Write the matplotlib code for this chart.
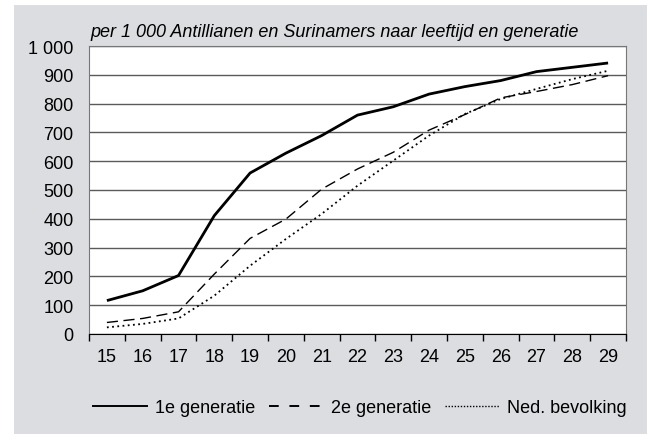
import matplotlib
matplotlib.use("Agg")
import matplotlib.pyplot as plt
from matplotlib.patches import Rectangle
from matplotlib.lines import Line2D

plt.rcParams['font.family'] = ['Liberation Sans', 'DejaVu Sans']

# leeftijd 15..29
ages = [15, 16, 17, 18, 19, 20, 21, 22, 23, 24, 25, 26, 27, 28, 29]
gen1 = [116, 150, 203, 411, 559, 628, 689, 760, 789, 833, 859, 880, 911, 926, 941]
gen2 = [40, 54, 77, 208, 332, 399, 503, 573, 631, 708, 762, 820, 842, 866, 897]
ned = [23, 35, 54, 133, 237, 330, 417, 515, 602, 689, 764, 816, 851, 885, 914]
labels = ["1e generatie", "2e generatie", "Ned. bevolking"]

yticks = [0, 100, 200, 300, 400, 500, 600, 700, 800, 900, 1000]
ytick_labels = ["0", "100", "200", "300", "400", "500", "600", "700", "800", "900", "1 000"]

W, H = 647, 435
fig = plt.figure(figsize=(W / 100, H / 100), dpi=100, facecolor="white")
# grey panel behind everything
fig.patches.append(Rectangle((14 / W, 0), 1 - 14 / W, 1 - 6 / H, transform=fig.transFigure,
                             facecolor="#dcdde0", edgecolor="none", zorder=-10))

ax = fig.add_axes([89 / W, 1 - 335 / H, (626 - 89) / W, (335 - 47) / H])
ax.set_zorder(1)
ax.set_facecolor("white")

x = list(range(len(ages)))
ax.plot(x, gen1, color="black", lw=2.0, solid_capstyle="butt", zorder=3)
ax.plot(x, gen2, color="black", lw=1.0, dashes=(8, 4), zorder=3)
ax.plot(x, ned, color="black", lw=1.3, dashes=(1.0, 1.9), zorder=3)

ax.set_xlim(-0.5, len(ages) - 0.5)
ax.set_ylim(0, 1000)
ax.set_yticks(yticks)
ax.set_yticklabels(ytick_labels)
ax.tick_params(axis="y", length=0, labelsize=13, pad=11)
ax.set_xticks([i - 0.5 for i in range(len(ages) + 1)])
ax.set_xticklabels([])
ax.set_xticks(x, minor=True)
ax.set_xticklabels([str(a) for a in ages], minor=True)
ax.tick_params(axis="x", which="major", length=5, width=1, color="black", direction="out")
ax.tick_params(axis="x", which="minor", length=0, labelsize=13, pad=10)

ax.grid(axis="y", color="#5a5a5a", lw=1)
ax.set_axisbelow(True)
for s in ["top", "right", "left"]:
    ax.spines[s].set_color("#777777")
ax.spines["bottom"].set_color("black")

fig.text(90 / W, 1 - 37 / H, "per 1 000 Antillianen en Surinamers naar leeftijd en generatie",
         fontsize=13, style="italic", ha="left", va="baseline")

# legend handles drawn thinner, like in the original
handles = [
    Line2D([], [], color="black", lw=1.4),
    Line2D([], [], color="black", lw=1.4, dashes=(5, 5.5)),
    Line2D([], [], color="black", lw=1.0, dashes=(1.0, 1.2)),
]
fig.legend(handles, labels, loc="center", bbox_to_anchor=(0.556, 1 - 409 / H), ncol=3,
           frameon=False, fontsize=13, handlelength=3.0, columnspacing=0.75,
           handletextpad=0.45)

fig.savefig("out.png", dpi=100, facecolor="white")
